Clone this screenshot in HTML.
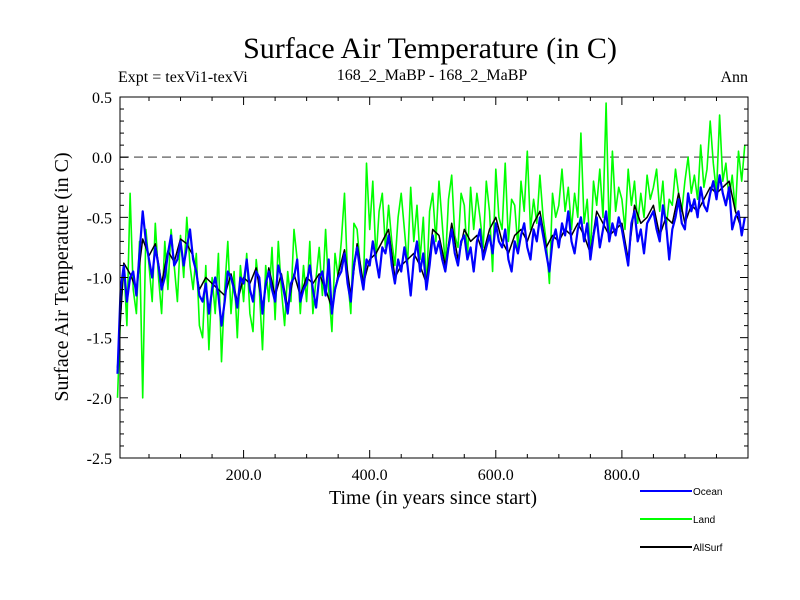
<!DOCTYPE html>
<html><head><meta charset="utf-8"><style>
body{margin:0;background:#fff;}
svg{display:block;font-family:"Liberation Serif",serif;}
</style></head><body>
<svg id="chart" width="800" height="600">
<text x="430" y="58" font-size="30" text-anchor="middle">Surface Air Temperature (in C)</text>
<text x="118" y="82" font-size="16">Expt = texVi1-texVi</text>
<text x="432" y="80" font-size="16" text-anchor="middle">168_2_MaBP - 168_2_MaBP</text>
<text x="748" y="82" font-size="16" text-anchor="end">Ann</text>
<text transform="translate(68,277) rotate(-90)" font-size="20" text-anchor="middle">Surface Air Temperature (in C)</text>
<text x="433" y="504" font-size="20" text-anchor="middle">Time (in years since start)</text>
<g id="plot"></g>
<g id="legend" font-family="Liberation Sans, sans-serif" font-size="10">
<line x1="640" y1="491" x2="692" y2="491" stroke="#0000ff" stroke-width="2"/>
<text x="693" y="495">Ocean</text>
<line x1="640" y1="519" x2="692" y2="519" stroke="#00ff00" stroke-width="2"/>
<text x="693" y="523">Land</text>
<line x1="640" y1="547" x2="692" y2="547" stroke="#000" stroke-width="2"/>
<text x="693" y="551">AllSurf</text>
</g>
</svg>
<script>
const yearStep = 5;
const yTicks = [0.5, 0.0, -0.5, -1.0, -1.5, -2.0, -2.5];
const yTickLabels = ["0.5","0.0","-0.5","-1.0","-1.5","-2.0","-2.5"];
const xTicks = [200, 400, 600, 800];
const xTickLabels = ["200.0","400.0","600.0","800.0"];
const ocean = [
-1.8,-1.1,-0.9,-1.2,-1.0,-0.95,-1.15,-0.8,-0.45,-0.7,
-0.85,-1.0,-0.75,-0.9,-1.1,-1.0,-0.8,-0.65,-0.9,-0.85,
-0.7,-0.9,-0.75,-0.6,-0.85,-0.95,-1.15,-1.2,-1.05,-1.3,
-1.1,-1.0,-1.15,-1.4,-1.2,-0.95,-1.0,-1.1,-1.25,-1.0,
-1.05,-0.85,-1.1,-1.2,-0.95,-1.0,-1.3,-1.05,-0.95,-1.1,
-1.2,-0.9,-1.0,-1.15,-1.3,-1.05,-1.0,-0.85,-1.2,-1.1,
-1.05,-0.9,-1.1,-1.25,-1.0,-0.95,-1.15,-0.85,-1.3,-1.1,
-1.0,-0.95,-0.8,-1.05,-1.2,-0.9,-0.75,-0.95,-1.1,-0.85,
-0.9,-0.7,-0.85,-1.0,-0.75,-0.8,-0.65,-0.9,-1.05,-0.85,
-0.95,-0.75,-0.9,-1.15,-0.85,-0.7,-0.95,-0.8,-1.1,-0.9,
-0.65,-0.8,-0.7,-0.85,-0.95,-0.75,-0.6,-0.8,-0.9,-0.7,
-0.65,-0.85,-0.75,-0.95,-0.7,-0.6,-0.85,-0.75,-0.65,-0.8,
-0.55,-0.7,-0.75,-0.6,-0.85,-0.95,-0.7,-0.8,-0.65,-0.55,
-0.75,-0.85,-0.6,-0.7,-0.5,-0.65,-0.8,-0.95,-0.7,-0.6,
-0.75,-0.55,-0.65,-0.45,-0.7,-0.8,-0.6,-0.5,-0.7,-0.55,
-0.85,-0.65,-0.5,-0.75,-0.6,-0.45,-0.7,-0.55,-0.65,-0.5,
-0.6,-0.75,-0.9,-0.55,-0.45,-0.7,-0.6,-0.8,-0.55,-0.5,
-0.45,-0.6,-0.7,-0.4,-0.55,-0.85,-0.6,-0.5,-0.35,-0.55,
-0.6,-0.3,-0.45,-0.35,-0.5,-0.25,-0.4,-0.45,-0.3,-0.2,
-0.35,-0.15,-0.3,-0.4,-0.25,-0.6,-0.5,-0.45,-0.65,-0.5];
const land = [
-2.0,-1.3,-0.9,-1.4,-0.3,-1.1,-1.3,-0.7,-2.0,-0.6,
-0.9,-1.2,-0.55,-1.0,-1.3,-0.7,-1.1,-0.6,-0.9,-1.2,
-0.65,-1.0,-0.5,-0.9,-1.1,-0.8,-1.4,-1.5,-0.9,-1.6,
-1.0,-1.3,-0.8,-1.7,-1.1,-0.7,-1.3,-0.95,-1.5,-0.9,
-1.2,-0.8,-1.3,-1.45,-0.85,-1.1,-1.6,-0.9,-1.2,-0.75,
-1.35,-0.7,-1.1,-1.4,-0.95,-1.2,-0.6,-0.85,-1.3,-0.9,
-1.2,-0.7,-1.3,-1.0,-0.75,-1.15,-0.6,-1.1,-1.45,-0.8,
-1.0,-0.7,-0.3,-1.0,-1.3,-0.55,-0.6,-0.9,-1.1,-0.05,
-0.6,-0.2,-0.85,-0.45,-0.3,-0.75,-0.4,-0.7,-0.9,-0.5,
-0.3,-0.6,-0.9,-0.25,-0.7,-0.4,-0.85,-0.5,-1.1,-0.45,
-0.3,-0.7,-0.2,-0.55,-0.9,-0.35,-0.15,-0.65,-0.75,-0.3,
-0.4,-0.85,-0.25,-0.6,-0.3,-0.5,-0.75,-0.2,-0.45,-0.95,
-0.1,-0.5,-0.6,-0.05,-0.7,-0.35,-0.4,-0.75,-0.2,-0.45,
0.05,-0.6,-0.35,-0.55,-0.15,-0.5,-0.7,-1.05,-0.3,-0.5,
-0.4,-0.1,-0.45,-0.25,-0.6,-0.3,-0.5,0.2,-0.55,-0.35,
-0.8,-0.2,-0.4,-0.1,-0.5,0.45,-0.65,0.05,-0.45,-0.25,
-0.35,-0.6,-0.1,-0.4,-0.2,-0.55,-0.3,-0.5,-0.15,-0.35,
-0.25,-0.1,-0.45,-0.2,-0.6,-0.35,-0.4,-0.1,-0.3,-0.45,
-0.2,0.0,-0.3,-0.15,-0.35,0.1,-0.25,-0.1,0.3,-0.05,
-0.3,0.35,-0.2,-0.05,-0.35,-0.15,-0.45,0.05,-0.2,0.1];
const allSurfStep = 10;
const allSurf = [
-1.75,-0.88,-0.97,-1.1,-0.68,-0.82,-0.72,-1.05,-0.78,-0.87,
-0.68,-0.72,-0.82,-1.1,-1.0,-1.05,-1.1,-1.15,-0.97,-1.2,
-1.0,-1.05,-0.92,-1.25,-0.92,-1.15,-0.97,-1.25,-0.97,-1.15,
-1.0,-1.05,-0.97,-1.1,-1.25,-0.97,-0.77,-1.15,-0.72,-1.05,
-0.85,-0.8,-0.7,-0.6,-1.0,-0.9,-0.85,-0.8,-0.9,-1.05,
-0.6,-0.65,-0.9,-0.55,-0.85,-0.6,-0.7,-0.65,-0.8,-0.6,
-0.5,-0.7,-0.8,-0.65,-0.6,-0.7,-0.55,-0.45,-0.75,-0.65,
-0.7,-0.6,-0.65,-0.55,-0.65,-0.8,-0.45,-0.55,-0.65,-0.6,
-0.55,-0.85,-0.4,-0.55,-0.5,-0.4,-0.65,-0.5,-0.55,-0.3,
-0.55,-0.4,-0.45,-0.35,-0.25,-0.3,-0.25,-0.2,-0.45,-0.6];

const L=120,R=748,T=97,B=458, X0=4, X1=1000, Y0=-2.5, Y1=0.5;
function xs(v){return L+(v-X0)/(X1-X0)*(R-L);}
function ys(v){return B-(v-Y0)/(Y1-Y0)*(B-T);}
const NS="http://www.w3.org/2000/svg";
const g=document.getElementById('plot');
function mk(tag,attrs){const e=document.createElementNS(NS,tag);for(const k in attrs)e.setAttribute(k,attrs[k]);g.appendChild(e);return e;}

const zl=mk('line',{x1:L,x2:R,y1:ys(0),y2:ys(0),stroke:'#777','stroke-width':1.5,'stroke-dasharray':'9,5'});



function series(arr,step,color,w,name){
  let d='';arr.forEach((v,i)=>{d+=(i?'L':'M')+xs(i*step).toFixed(1)+','+ys(v).toFixed(1);});
  const p=mk('path',{d:d,fill:'none',stroke:color,'stroke-width':w,'stroke-linejoin':'round'});
  
  
}
series(land,yearStep,'#00ff00',1.6,'land-series');
series(allSurf,allSurfStep,'#000000',1.5,'allsurf-series');
series(ocean,yearStep,'#0000ff',2.2,'ocean-series');

const fr=mk('rect',{x:L,y:T,width:R-L,height:B-T,fill:'none',stroke:'#000','stroke-width':1});


for(let v=-2.5;v<=0.51;v+=0.1){
  const major=Math.abs(v*2-Math.round(v*2))<0.01;const len=major?8:4;const y=ys(v);
  const t1=mk('line',{x1:L,x2:L+len,y1:y,y2:y,stroke:'#000'});
  
  
  const t2=mk('line',{x1:R-len,x2:R,y1:y,y2:y,stroke:'#000'});
  
  
}
for(let v=50;v<X1;v+=50){
  const major=v%200===0;const len=major?8:4;const x=xs(v);
  const t1=mk('line',{x1:x,x2:x,y1:T,y2:T+len,stroke:'#000'});
  
  
  const t2=mk('line',{x1:x,x2:x,y1:B-len,y2:B,stroke:'#000'});
  
  
}
yTicks.forEach((v,i)=>{
  const t=mk('text',{x:L-8,y:ys(v)+6,'font-size':16,'text-anchor':'end'});
  t.textContent=yTickLabels[i];
  
  
});
xTicks.forEach((v,i)=>{
  const t=mk('text',{x:xs(v),y:B+22,'font-size':16,'text-anchor':'middle'});
  t.textContent=xTickLabels[i];
  
  
});
</script>
</body></html>
